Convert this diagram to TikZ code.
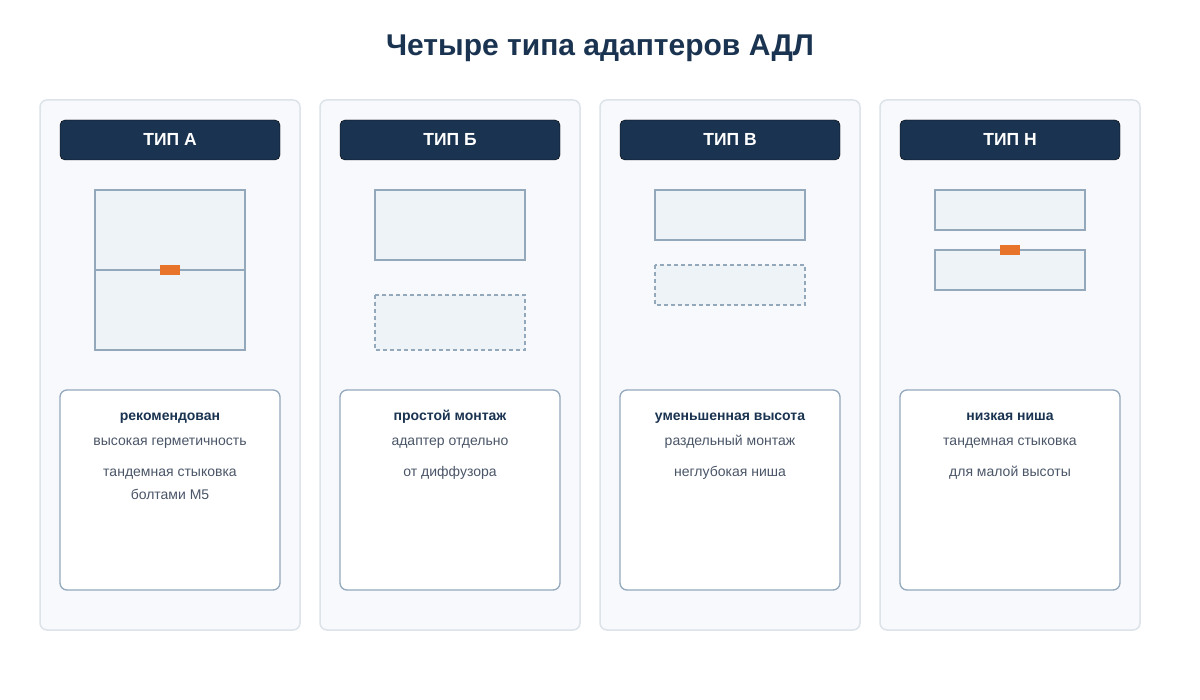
\documentclass[tikz,border=0pt]{standalone}
\usepackage{fontspec}
\setmainfont{Liberation Sans}
\definecolor{navy}{HTML}{1A3350}
\definecolor{cardfill}{HTML}{F7F9FC}
\definecolor{cardline}{HTML}{DCE3EA}
\definecolor{partfill}{HTML}{EEF3F7}
\definecolor{partline}{HTML}{94A8BC}
\definecolor{bolt}{HTML}{E8732A}
\definecolor{textgray}{HTML}{4A5568}
\begin{document}
\begin{tikzpicture}[x=1pt,y=-1pt,
		card/.style={draw=cardline,fill=cardfill,line width=1.5pt,rounded corners=7pt},
		header/.style={fill=navy,rounded corners=5pt},
		part/.style={draw=partline,fill=partfill,line width=1.5pt},
		spare/.style={part,dashed,dash pattern=on 4pt off 3pt},
		boltbox/.style={fill=bolt},
		note/.style={draw=partline,fill=white,line width=1.3pt,rounded corners=7pt},
		htext/.style={text=white,font=\fontsize{17.5}{20}\selectfont\bfseries,anchor=base},
		ntitle/.style={text=navy,font=\fontsize{14}{16}\selectfont\bfseries,anchor=base},
		nline/.style={text=textgray,font=\fontsize{14}{16}\selectfont,anchor=base}]
		\useasboundingbox[fill=white] (0,0) rectangle (1200,700);
		\node[text=navy,font=\fontsize{30}{34}\selectfont\bfseries,anchor=base] (title) at (600,56) {Четыре типа адаптеров АДЛ};

		% cards, headers and note boxes
		\foreach \i/\name in {0/А,1/Б,2/В,3/Н}{
			\pgfmathsetmacro{\xl}{40+280*\i}
			\draw[card] (\xl,100) rectangle ++(260,530);
			\draw[header] (\xl+20,120) rectangle ++(220,40);
			\node[htext] (h\i) at (\xl+130,146) {ТИП \name};
			\draw[note] (\xl+20,390) rectangle ++(220,200);
		}

		% type A
		\draw[part] (95,190) rectangle (245,350);
		\draw[partline,line width=1.5pt] (95,270) -- (245,270);
		\fill[boltbox] (160,265) rectangle (180,275);
		% type B
		\draw[part] (375,190) rectangle (525,260);
		\draw[spare] (375,295) rectangle (525,350);
		% type V
		\draw[part] (655,190) rectangle (805,240);
		\draw[spare] (655,265) rectangle (805,305);
		% type N
		\draw[part] (935,190) rectangle (1085,230);
		\draw[part] (935,250) rectangle (1085,290);
		\fill[boltbox] (1000,245) rectangle (1020,255);

		% notes
		\node[ntitle] (t0) at (170,421) {рекомендован};
		\node[nline] (a0) at (170,446) {высокая герметичность};
		\node[nline] (b0) at (170,476) {тандемная стыковка};
		\node[nline] (c0) at (170,500) {болтами М5};

		\node[ntitle] (t1) at (450,421) {простой монтаж};
		\node[nline] (a1) at (450,446) {адаптер отдельно};
		\node[nline] (b1) at (450,476) {от диффузора};

		\node[ntitle] (t2) at (730,421) {уменьшенная высота};
		\node[nline] (a2) at (730,446) {раздельный монтаж};
		\node[nline] (b2) at (730,476) {неглубокая ниша};

		\node[ntitle] (t3) at (1010,421) {низкая ниша};
		\node[nline] (a3) at (1010,446) {тандемная стыковка};
		\node[nline] (b3) at (1010,476) {для малой высоты};
	\end{tikzpicture}
\end{document}
